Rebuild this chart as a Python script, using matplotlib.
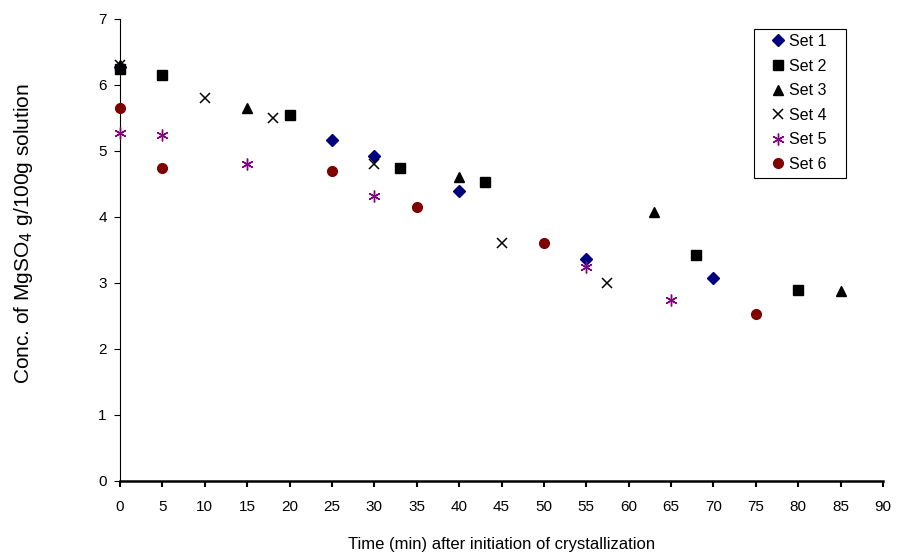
import matplotlib.pyplot as plt
from matplotlib.patches import Rectangle

plt.rcParams['font.family'] = ['Liberation Sans', 'DejaVu Sans']

# Data
set1_x = [0, 25, 30, 40, 55, 70]
set1_y = [6.27, 5.17, 4.93, 4.40, 3.37, 3.07]

set2_x = [0, 5, 20, 33, 43, 68, 80]
set2_y = [6.25, 6.15, 5.55, 4.75, 4.53, 3.42, 2.90]

set3_x = [0, 15, 40, 63, 85]
set3_y = [6.30, 5.65, 4.60, 4.08, 2.88]

set4_x = [0, 10, 18, 30, 45, 57.5]
set4_y = [6.30, 5.80, 5.50, 4.80, 3.60, 3.00]

set5_x = [0, 5, 15, 30, 55, 65]
set5_y = [5.28, 5.25, 4.80, 4.32, 3.25, 2.75]

set6_x = [0, 5, 25, 35, 50, 75]
set6_y = [5.65, 4.75, 4.70, 4.15, 3.60, 2.53]

fig = plt.figure(figsize=(8.98, 5.56), dpi=100)
ax = fig.add_axes([120 / 898, 75 / 556, 763 / 898, 462 / 556])

common = dict(linestyle='none', clip_on=False, zorder=3)
ax.plot(set1_x, set1_y, marker='D', color='#000080', markersize=6, label='Set 1', **common)
ax.plot(set2_x, set2_y, marker='s', color='black', markersize=7, label='Set 2', **common)
ax.plot(set3_x, set3_y, marker='^', color='black', markersize=7.5, label='Set 3', **common)
ax.plot(set4_x, set4_y, marker='x', color='black', markersize=7,
        markeredgewidth=1.1, label='Set 4', **common)
ax.plot(set5_x, set5_y, marker=(6, 2, 0), color='#800080', markersize=8.5,
        markeredgewidth=1.0, label='Set 5', **common)
ax.plot(set6_x, set6_y, marker='o', color='#800000', markersize=7, label='Set 6', **common)

ax.set_xlim(0, 90)
ax.set_ylim(0, 7)
ax.set_xticks(range(0, 91, 5))
ax.set_yticks(range(0, 8))
ax.tick_params(labelsize=11, direction='out', length=4.5, width=0.8)
ax.tick_params(axis='x', pad=9, width=1.5)
ax.tick_params(axis='y', pad=5)

for side in ['top', 'right']:
    ax.spines[side].set_visible(False)
ax.spines['bottom'].set_linewidth(1.8)
ax.spines['left'].set_linewidth(0.8)

ax.set_xlabel('Time (min) after initiation of crystallization', fontsize=12)
ax.set_ylabel('Conc. of MgSO$_4$ g/100g solution', fontsize=15)
ax.xaxis.set_label_coords(0.5, -0.122)
ax.yaxis.set_label_coords(-0.112, 0.535)

# legend without its own frame, box drawn separately to get the wide side padding
leg = ax.legend(loc='upper left', bbox_to_anchor=(772 / 898, (556 - 34) / 556),
                bbox_transform=fig.transFigure, fontsize=11.5, frameon=False,
                handletextpad=0.3, handlelength=0.75, borderpad=0, labelspacing=0.6,
                borderaxespad=0)
fig.add_artist(Rectangle((754 / 898, (556 - 178) / 556), 92 / 898, 149 / 556,
                         transform=fig.transFigure, fill=False, edgecolor='black', linewidth=0.8))

fig.savefig('out.png', dpi=100)
